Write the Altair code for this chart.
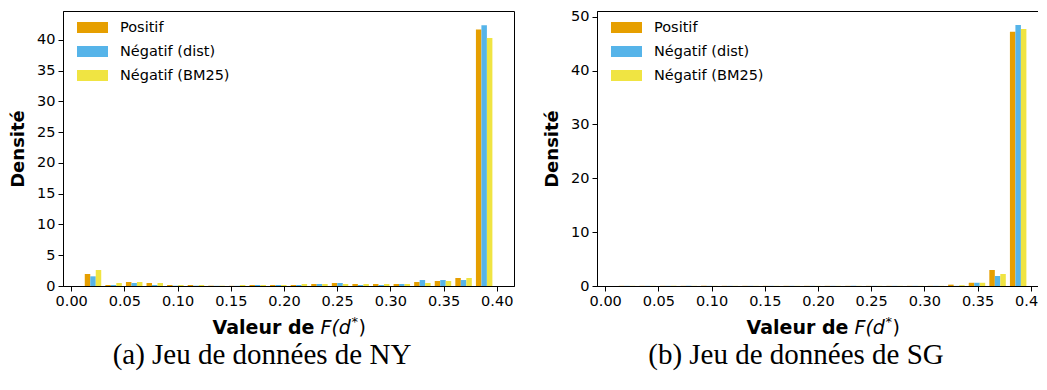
import altair as alt
import pandas as pd

# ---- data ----
series = ["Positif", "Négatif (dist)", "Négatif (BM25)"]
colors = ["#E69F00", "#56B4E9", "#F0E442"]

bin_centers = [0.0205, 0.03985, 0.0592, 0.07855, 0.0979, 0.11725, 0.1366,
               0.15595, 0.1753, 0.19465, 0.214, 0.23335, 0.2527, 0.27205,
               0.2914, 0.31075, 0.3301, 0.34945, 0.3688, 0.38815]
bin_width = 0.01935

ny_pos = [1.95, 0.16, 0.65, 0.49, 0.16, 0.16, 0.05, 0.03, 0.16, 0.16,
          0.16, 0.33, 0.49, 0.33, 0.33, 0.33, 0.65, 0.81, 1.3, 41.7]
ny_dist = [1.57, 0.16, 0.49, 0.16, 0.05, 0.05, 0.03, 0.03, 0.16, 0.16,
           0.16, 0.33, 0.49, 0.16, 0.16, 0.33, 0.97, 0.97, 0.97, 42.4]
ny_bm25 = [2.6, 0.49, 0.65, 0.49, 0.16, 0.16, 0.05, 0.16, 0.16, 0.16,
           0.33, 0.33, 0.33, 0.33, 0.33, 0.33, 0.49, 0.81, 1.3, 40.3]

sg_pos = [0.03, 0.03, 0.03, 0.03, 0.03, 0.03, 0.03, 0.03, 0.03, 0.03,
          0.03, 0.03, 0.03, 0.03, 0.03, 0.03, 0.25, 0.6, 2.97, 47.2]
sg_dist = [0.03, 0.03, 0.03, 0.03, 0.03, 0.03, 0.03, 0.03, 0.03, 0.03,
           0.03, 0.03, 0.03, 0.03, 0.03, 0.03, 0.02, 0.6, 1.86, 48.45]
sg_bm25 = [0.03, 0.03, 0.03, 0.03, 0.03, 0.03, 0.03, 0.03, 0.03, 0.03,
           0.03, 0.03, 0.03, 0.03, 0.03, 0.03, 0.15, 0.6, 2.23, 47.7]

x_ticks = [0.0, 0.05, 0.1, 0.15, 0.2, 0.25, 0.3, 0.35, 0.4]
ny_y_ticks = [0, 5, 10, 15, 20, 25, 30, 35, 40]
sg_y_ticks = [0, 10, 20, 30, 40, 50]
x_domain = [-0.0077, 0.4162]
ny_y_max = 44.7
sg_y_max = 51.05

captions = ["(a) Jeu de données de NY", "(b) Jeu de données de SG"]

W, H = 451, 275
bar_w = 0.8 * bin_width / 3


def make_table(value_lists):
    rows = []
    for si, (name, vals) in enumerate(zip(series, value_lists)):
        for c, v in zip(bin_centers, vals):
            mid = c + (si - 1) * bar_w
            rows.append({"series": name, "x0": mid - bar_w / 2,
                         "x1": mid + bar_w / 2, "value": v, "base": 0.0})
    return pd.DataFrame(rows)


def text_layer(txt, x, y, **kw):
    return alt.Chart(pd.DataFrame({"t": [txt]})).mark_text(
        color="black", **kw
    ).encode(x=alt.value(x), y=alt.value(y), text="t:N")


def panel(df, y_max, y_ticks, caption):
    bars = alt.Chart(df).mark_rect().encode(
        x=alt.X("x0:Q",
                scale=alt.Scale(domain=x_domain, nice=False, zero=False,
                                padding=0),
                axis=alt.Axis(values=x_ticks, format=".2f", title=None,
                              labelPadding=3)),
        x2="x1:Q",
        y=alt.Y("value:Q",
                scale=alt.Scale(domain=[0, y_max], nice=False, padding=0),
                axis=alt.Axis(values=y_ticks, title="Densité",
                              titleFontWeight="bold", titleFontSize=18,
                              labelPadding=3, minExtent=28, maxExtent=28,
                              titlePadding=8)),
        y2="base:Q",
        color=alt.Color("series:N", sort=series,
                        scale=alt.Scale(domain=series, range=colors),
                        legend=alt.Legend(
                            title=None, orient="none", legendX=14, legendY=9,
                            symbolType="M-1,-0.355H1V0.355H-1Z",
                            symbolSize=961, clipHeight=15, rowPadding=8,
                            labelOffset=12, labelFontSize=14.5,
                            labelFont="DejaVu Sans", labelColor="black",
                            padding=0, symbolStrokeWidth=0,
                            symbolOpacity=1)),
    )
    cx = W / 2
    t1 = text_layer("Valeur de", cx + 26, 317, font="DejaVu Sans",
                    fontSize=19, fontWeight="bold", align="right",
                    baseline="middle")
    t2 = text_layer("F(d", cx + 32, 317, font="DejaVu Sans", fontSize=19,
                    fontStyle="italic", align="left", baseline="middle")
    t3 = text_layer("*", cx + 63, 311, font="DejaVu Sans", fontSize=13,
                    align="left", baseline="middle")
    t4 = text_layer(")", cx + 70, 317, font="DejaVu Sans", fontSize=19,
                    align="left", baseline="middle")
    cap = text_layer(caption, 199, 344, font="Liberation Serif",
                     fontSize=29, align="center", baseline="middle")
    return alt.layer(bars, t1, t2, t3, t4, cap).properties(width=W, height=H)


left = panel(make_table([ny_pos, ny_dist, ny_bm25]), ny_y_max, ny_y_ticks,
             captions[0])
right = panel(make_table([sg_pos, sg_dist, sg_bm25]), sg_y_max, sg_y_ticks,
              captions[1])

# the right panel runs past the page edge in the reference: clip it there
chart = alt.hconcat(left, right, spacing=27).resolve_scale(
    color="independent"
).resolve_legend(color="independent").properties(
    padding={"left": 0, "top": 0, "right": -11, "bottom": 0}
).configure_view(stroke="black", strokeWidth=1).configure_axis(
    domainColor="black", tickColor="black", labelColor="black",
    titleColor="black", labelFont="DejaVu Sans", titleFont="DejaVu Sans",
    labelFontSize=14.5, tickSize=5, grid=False, domainWidth=1, tickWidth=1
)

chart.save("out.html", embed_options={"renderer": "svg", "actions": False})
